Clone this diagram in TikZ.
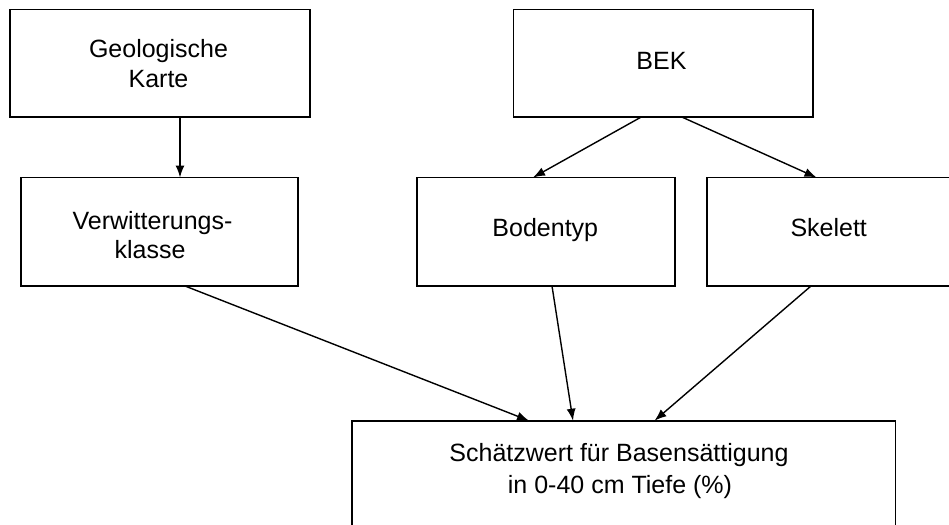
\documentclass[tikz,border=0pt]{standalone}
\usepackage{fontspec}
\setmainfont{Liberation Sans}
\usetikzlibrary{arrows.meta}
\begin{document}
\begin{tikzpicture}[x=1pt,y=-1pt,
  box/.style={draw, line width=1.8pt, rectangle, inner sep=0pt, outer sep=0pt},
  txt/.style={font=\fontsize{25}{30}\selectfont, inner sep=0pt, anchor=base},
  arr/.style={line width=1.4pt, -{Latex[length=12pt,width=9pt]}}]
\useasboundingbox (0,0) rectangle (949,524);
\clip (0,0) rectangle (949,524);
% boxes
\node[box, minimum width=300pt, minimum height=107.5pt] (geo) at (160,63.25) {};
\node[box, minimum width=299.5pt, minimum height=107.5pt] (bek) at (663.25,63.25) {};
\node[box, minimum width=277pt, minimum height=108.5pt] (ver) at (159.5,231.75) {};
\node[box, minimum width=258pt, minimum height=108.5pt] (bod) at (545.8,231.75) {};
\node[box, minimum width=244pt, minimum height=108.5pt] (ske) at (829.3,231.75) {};
\node[box, minimum width=543.8pt, minimum height=108pt] (sch) at (623.6,474.7) {};
% texts
\node[txt] (geoT1) at (158.5,57.3) {Geologische};
\node[txt] (geoT2) at (158.5,87.7) {Karte};
\node[txt] (bekT) at (661.5,70) {BEK};
\node[txt] (verT1) at (152.5,229.3) {Verwitterungs-};
\node[txt] (verT2) at (150,258.3) {klasse};
\node[txt] (bodT) at (545.3,236.7) {Bodentyp};
\node[txt] (skeT) at (828.7,236.7) {Skelett};
\node[txt] (schT1) at (619,461.7) {Schätzwert für Basensättigung};
\node[txt] (schT2) at (620,493.3) {in 0-40 cm Tiefe (\%)};
% connectors
\draw[arr] ([xshift=20pt]geo.south) -- ([xshift=20.5pt]ver.north);
\draw[arr] ([xshift=-22pt]bek.south) -- ([xshift=-12.8pt]bod.north);
\draw[arr] ([xshift=18.5pt]bek.south) -- ([xshift=-12.8pt]ske.north);
\draw[arr] ([xshift=25.5pt]ver.south) -- ([xshift=-94.6pt]sch.north);
\draw[arr] ([xshift=6.2pt]bod.south) -- ([xshift=-50.6pt]sch.north);
\draw[arr] ([xshift=-18.3pt]ske.south) -- ([xshift=30.9pt]sch.north);
\end{tikzpicture}
\end{document}
